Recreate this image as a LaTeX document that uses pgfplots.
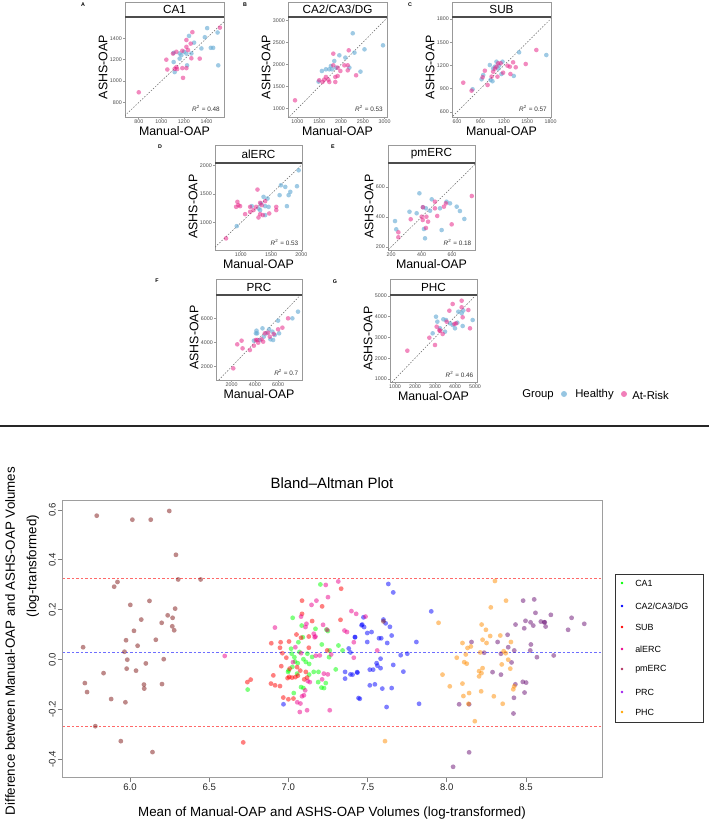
\documentclass[border=0pt]{standalone}
\usepackage{fontspec}
\setmainfont{Liberation Sans}
\usepackage{pgfplots}
\pgfplotsset{compat=1.18}

\newdimen\px \px=0.75pt

\definecolor{healthy}{RGB}{107,174,214}
\definecolor{atrisk}{RGB}{231,41,138}
\definecolor{ticktxt}{gray}{0.3}
\definecolor{panelframe}{gray}{0.6}
\definecolor{baframe}{gray}{0.62}
\definecolor{pmerc}{RGB}{125,20,20}
\definecolor{prc}{RGB}{105,15,115}
\definecolor{phc}{RGB}{255,140,0}
\definecolor{legpmerc}{RGB}{176,48,96}
\definecolor{legprc}{RGB}{160,32,240}
\definecolor{legphc}{RGB}{255,165,0}
\definecolor{loaline}{RGB}{255,105,105}
\definecolor{meanline}{RGB}{110,110,255}

\pgfplotsset{
  panel/.style={
    scale only axis, clip mode=individual,
    axis line style={panelframe, line width=0.8\px},
    tick style={panelframe, line width=0.6\px},
    tick align=outside, major tick length=2\px,
    xtick pos=bottom, ytick pos=left,
    ticklabel style={font=\fontsize{4}{4}\selectfont, text=ticktxt, inner sep=1\px},
    /pgf/number format/assume math mode=true,
    /pgf/number format/1000 sep={},
    scaled ticks=false,
    xlabel={Manual-OAP}, ylabel={ASHS-OAP},
    label style={font=\fontsize{9.3}{10}\selectfont},
    xlabel style={inner sep=1\px},
    ylabel style={inner sep=1\px},
  },
  healthy/.style={only marks, mark=*, mark size=2.3\px,
    mark options={line width=0pt, draw opacity=0, fill=healthy, fill opacity=0.65}},
  atrisk/.style={only marks, mark=*, mark size=2.3\px,
    mark options={line width=0pt, draw opacity=0, fill=atrisk, fill opacity=0.55}},
  identity/.style={no marks, color=black!60, line width=0.5\px, dash pattern=on 1.5\px off 1.5\px},
  badot/.style={only marks, mark=*, mark size=2.4\px,
    mark options={line width=0pt, draw opacity=0, fill=#1, fill opacity=0.5}},
  baline/.style={no marks, color=#1, line width=1\px, dash pattern=on 2.5\px off 2\px},
}

% strip on top of a panel, and R^2 note
\newcommand\strip[3]{%
  \draw[draw=panelframe, line width=0.8\px] (rel axis cs:0,1) rectangle ([yshift=#1\px]rel axis cs:1,1);
  \draw[draw=black!70, line width=1.2\px] (rel axis cs:0,1) -- (rel axis cs:1,1);
  \node[font=\fontsize{8.8}{9}\selectfont] at ([yshift=#1/2*\px]rel axis cs:0.5,1) {#2};
  \node[anchor=south east, font=\fontsize{4.8}{5}\selectfont, text=black!80, inner sep=0pt]
    at (rel axis cs:0.96,0.05) {{\itshape R}\textsuperscript{2} = #3};
}

\begin{document}
\begin{tikzpicture}
\useasboundingbox (0,0) rectangle (709\px,-825\px);

% ---------- A: CA1
\begin{axis}[panel, at={(125\px,-117\px)}, anchor=south west, width=99\px, height=100\px,
  xmin=678, xmax=1555, ymin=664, ymax=1599,
  xtick={800,1000,1200,1400}, ytick={800,1000,1200,1400}]
\addplot[identity] coordinates {(0,0) (10000,10000)};
\addplot[healthy] table {
1109 1178
1118 1084
1162 1210
1177 1242
1201 1274
1222 1257
1245 1422
1290 1359
1355 1305
1385 1410
1406 1495
1438 1311
1459 1311
1498 1454
1504 1147
1109 1264
1162 1258
1228 1147
1266 1258
};
\addplot[atrisk] table {
800 895
1044 1200
1053 1108
1133 1130
1118 1115
1140 1112
1192 1030
1186 1121
1222 1121
1266 1213
1236 1290
1222 1320
1260 1350
1275 1457
1340 1210
1186 1283
1103 1257
1133 1274
1519 1500
1222 1384
};
\strip{15}{CA1}{0.48}
\end{axis}

% ---------- B: CA2/CA3/DG
\begin{axis}[panel, at={(288\px,-117\px)}, anchor=south west, width=99\px, height=100\px,
  xmin=785, xmax=3054, ymin=811, ymax=3075,
  xtick={1000,1500,2000,2500,3000}, ytick={1000,1500,2000,2500,3000}]
\addplot[identity] coordinates {(0,0) (10000,10000)};
\addplot[healthy] table {
1562 1853
1485 1612
1731 1891
1769 1966
1846 2079
1962 2208
2100 2155
2308 2268
2269 2706
2538 2343
2446 1838
2962 2434
1885 1928
2192 1928
1654 1891
1792 1891
};
\addplot[atrisk] table {
946 1189
1500 1642
1577 1604
1615 1657
1654 1717
1731 1604
1823 1981
1823 2245
1869 1717
1869 1604
1923 1740
1985 1853
2077 1981
2154 1868
2177 2321
2154 1981
2346 1755
1708 1657
1923 1928
};
\strip{15}{CA2/CA3/DG}{0.53}
\end{axis}

% ---------- C: SUB
\begin{axis}[panel, at={(452\px,-117\px)}, anchor=south west, width=99\px, height=100\px,
  xmin=536, xmax=1805, ymin=535, ymax=1826,
  xtick={600,900,1200,1500,1800}, ytick={600,900,1200,1500,1800}]
\addplot[identity] coordinates {(0,0) (10000,10000)};
\addplot[healthy] table {
800 893
915 1022
936 1077
1021 1206
1030 1013
1055 997
1085 1185
1106 1249
1140 1200
1183 1249
1170 1090
1328 1065
1396 1370
1745 1335
1064 1160
1128 1160
};
\addplot[atrisk] table {
680 978
787 875
992 948
957 1133
928 1048
1043 1056
1064 1120
1106 1185
1128 1228
1160 1228
1191 1107
1247 1198
1277 1185
1285 1090
1319 1241
1353 1177
1481 1219
1617 1400
1119 1056
1085 1160
};
\strip{15}{SUB}{0.57}
\end{axis}

% ---------- D: alERC
\begin{axis}[panel, at={(215\px,-250\px)}, anchor=south west, width=87\px, height=87\px,
  xmin=575, xmax=2011, ymin=526, ymax=2040,
  xtick={1000,1500,2000}, ytick={1000,1500,2000}]
\addplot[identity] coordinates {(0,0) (10000,10000)};
\addplot[healthy] table {
934 942
1182 1289
1320 1220
1376 1451
1403 1289
1442 1422
1459 1277
1403 1133
1641 1480
1663 1653
1735 1624
1762 1289
1790 1480
1818 1538
1928 1636
1956 1913
1331 1335
1293 1249
};
\addplot[atrisk] table {
757 728
945 1364
961 1306
923 1277
1072 1150
1155 1191
1210 1220
1254 1277
1276 1578
1293 1092
1320 1347
1348 1306
1403 1376
1470 1162
1586 1220
1586 1277
1320 1150
1155 1277
989 1289
1365 1133
};
\strip{18}{alERC}{0.53}
\end{axis}

% ---------- E: pmERC
\begin{axis}[panel, at={(388\px,-250\px)}, anchor=south west, width=87\px, height=87\px,
  xmin=180, xmax=751, ymin=180, ymax=760,
  xtick={200,400,600}, ytick={200,400,600}]
\addplot[identity] coordinates {(0,0) (10000,10000)};
\addplot[healthy] table {
226 373
386 558
321 435
368 425
429 458
423 258
416 320
467 518
456 442
532 313
521 458
564 502
587 491
631 469
652 440
681 387
234 318
409 465
};
\addplot[atrisk] table {
248 265
329 385
408 380
401 402
429 327
443 369
432 402
488 502
488 458
503 407
547 469
560 491
598 351
730 540
248 298
409 465
};
\strip{18}{pmERC}{0.18}
\end{axis}

% ---------- F: PRC
\begin{axis}[panel, at={(216\px,-380\px)}, anchor=south west, width=86\px, height=85\px,
  xmin=657, xmax=8057, ymin=897, ymax=7931,
  xtick={2000,4000,6000}, ytick={2000,4000,6000}]
\addplot[identity] coordinates {(0,0) (10000,10000)};
\addplot[healthy] table {
3914 4152
4143 4979
4200 4759
4657 5172
4771 4483
5000 4759
5229 5090
5514 4897
5571 4207
5714 4621
6000 5807
6086 4759
7229 6000
7714 6552
4429 4207
5343 4262
4086 4759
};
\addplot[atrisk] table {
2143 1862
2486 3848
2857 4152
2943 3517
3571 3379
3914 3738
4086 4207
4286 3986
4571 4262
4714 4069
4857 4759
5286 4483
5629 4703
6000 5090
6371 5228
6857 6000
5143 4814
4200 4207
};
\strip{16}{PRC}{0.7}
\end{axis}

% ---------- G: PHC
\begin{axis}[panel, at={(390\px,-382\px)}, anchor=south west, width=87\px, height=87\px,
  xmin=750, xmax=5100, ymin=855, ymax=5048,
  xtick={1000,2000,3000,4000,5000}, ytick={1000,2000,3000,4000,5000}]
\addplot[identity] coordinates {(0,0) (10000,10000)};
\addplot[healthy] table {
2883 3201
3050 4003
3117 3762
3250 3443
3417 3877
3500 3280
3550 3843
3750 3683
3883 3602
4000 3443
4117 3713
4167 4243
4333 4166
4383 3554
4883 3843
4417 4300
};
\addplot[atrisk] table {
1617 2364
2717 2990
3000 2639
3083 3521
3250 3313
3383 3169
3583 3762
3717 4292
3883 4614
3967 3651
4050 3680
4333 4773
4333 4455
4383 3973
4667 4325
4750 3443
3217 3360
};
\strip{16}{PHC}{0.46}
\end{axis}

% panel letters
\begin{scope}[every node/.style={font=\bfseries\fontsize{4}{4}\selectfont}]
\node at (83\px,-5\px) {A};
\node at (245\px,-5\px) {B};
\node at (410\px,-5\px) {C};
\node at (160\px,-147\px) {D};
\node at (333\px,-147\px) {E};
\node at (157\px,-281\px) {F};
\node at (335\px,-282\px) {G};
\end{scope}

% group legend
\begin{scope}[every node/.style={font=\fontsize{8.5}{9}\selectfont, anchor=west, inner sep=0pt}]
\node at (522\px,-395\px) {Group};
\fill[healthy, opacity=0.7] (564\px,-394\px) circle (3\px);
\node at (575\px,-395\px) {Healthy};
\fill[atrisk, opacity=0.6] (624\px,-394\px) circle (3\px);
\node at (632\px,-395\px) {At-Risk};
\end{scope}

% separator
\draw[black!85, line width=2\px] (0,-426\px) -- (709\px,-426\px);

% ---------- Bland-Altman
\begin{axis}[at={(63\px,-777\px)}, anchor=south west, scale only axis,
  width=539\px, height=277\px,
  xmin=5.577, xmax=8.98, ymin=-0.472, ymax=0.64,
  axis line style={baframe, line width=1\px},
  tick style={baframe!80!black, line width=0.7\px},
  tick align=outside, major tick length=5\px,
  xtick pos=bottom, ytick pos=left,
  xtick={6,6.5,7,7.5,8,8.5}, ytick={-0.4,-0.2,0,0.2,0.4,0.6},
  ticklabel style={font=\fontsize{7.2}{8}\selectfont, text=black!85},
  /pgf/number format/assume math mode=true,
  /pgf/number format/.cd, fixed, fixed zerofill, precision=1, /pgfplots/.cd,
  yticklabel style={rotate=90, anchor=south, inner sep=2\px},
  xticklabel style={inner sep=2\px},
  clip mode=individual]
\addplot[baline=meanline] coordinates {(5.577,0.028) (8.98,0.028)};
\addplot[baline=loaline] coordinates {(5.577,-0.268) (8.98,-0.268)};
\addplot[baline=loaline] coordinates {(5.577,0.323) (8.98,0.323)};
% CA1
\addplot[badot=green] table {
7.202 0.301
7.027 0.167
7.084 0.136
7.171 0.123
7.249 0.114
7.240 0.120
7.063 0.069
7.091 0.089
7.017 0.043
7.021 0.023
7.038 0.009
7.042 -0.008
7.059 -0.015
7.025 -0.030
7.095 0.001
7.120 0.023
7.131 -0.018
7.211 0.060
7.257 0.009
7.261 0.036
7.316 0.056
7.342 0.036
7.299 -0.040
7.002 -0.044
6.998 -0.050
7.055 -0.057
7.131 -0.061
7.190 -0.050
7.188 -0.091
7.236 -0.095
7.209 -0.113
7.225 -0.115
7.080 -0.111
6.743 -0.121
7.034 -0.135
7.095 -0.115
7.110 -0.010
7.160 -0.050
7.070 0.030
7.150 0.010
};
% CA2/CA3/DG
\addplot[badot=blue] table {
6.969 -0.180
7.443 -0.155
7.358 -0.050
7.358 -0.077
7.405 -0.061
7.436 -0.053
7.474 0.169
7.466 0.140
7.421 0.089
7.392 0.028
7.381 0.044
7.631 0.303
7.662 0.269
7.902 0.193
7.462 0.137
7.498 0.106
7.525 0.110
7.572 0.085
7.586 0.085
7.614 0.145
7.641 0.131
7.652 0.096
7.624 0.066
7.498 0.070
7.420 0.090
7.808 0.070
7.709 0.017
7.751 0.023
7.557 -0.015
7.562 -0.025
7.582 0.003
7.514 -0.041
7.535 -0.041
7.582 -0.035
7.662 -0.022
7.726 -0.049
7.434 -0.051
7.392 -0.060
7.514 -0.104
7.546 -0.100
7.593 -0.117
7.652 -0.115
7.451 -0.158
7.620 -0.191
7.825 -0.178
7.478 0.130
7.600 0.160
};
% SUB
\addplot[badot=red] table {
7.333 0.284
7.213 0.213
7.086 0.236
7.086 0.183
7.150 0.154
7.329 0.159
6.892 0.065
6.951 0.069
7.004 0.072
6.947 0.047
6.962 0.025
7.051 0.100
7.080 0.087
7.129 0.092
7.129 0.047
7.245 0.036
6.987 0.007
6.955 -0.027
7.008 -0.037
7.055 -0.031
7.023 -0.073
7.044 -0.071
7.060 -0.065
7.075 -0.045
7.110 -0.050
7.118 -0.073
7.005 -0.070
6.995 -0.075
6.905 -0.064
6.741 -0.091
6.762 -0.081
6.890 -0.097
6.916 -0.104
6.947 -0.107
6.968 -0.153
7.032 -0.157
7.100 -0.080
6.715 -0.333
7.000 -0.160
};
% alERC
\addplot[badot=magenta] table {
6.598 0.014
6.915 0.128
7.236 0.299
7.315 0.313
7.177 0.236
7.146 0.219
7.080 0.172
7.108 0.130
7.160 0.103
7.171 0.092
7.219 0.139
7.245 0.119
7.354 0.116
7.398 0.194
7.428 0.183
7.487 0.172
7.044 0.049
7.080 0.025
7.173 0.015
7.198 0.016
7.270 0.020
7.413 0.007
7.224 -0.057
7.249 -0.060
7.213 -0.080
7.122 -0.087
7.029 -0.011
7.086 -0.148
7.076 -0.177
7.072 -0.211
7.118 -0.204
7.261 -0.204
7.114 0.143
7.166 0.089
7.561 0.036
7.106 -0.124
7.098 -0.144
7.056 -0.172
7.135 -0.091
7.413 0.069
7.250 0.250
7.370 0.110
};
% pmERC
\addplot[badot=pmerc] table {
5.704 0.049
5.715 -0.095
5.729 -0.131
5.790 0.577
5.781 -0.268
5.833 -0.055
5.881 -0.159
5.900 0.292
5.921 0.311
5.942 -0.328
5.965 0.031
5.975 0.077
5.983 -0.001
5.979 -0.037
5.971 -0.172
6.002 0.219
6.025 0.115
6.015 0.561
6.048 0.055
6.038 -0.045
6.071 0.160
6.088 -0.101
6.090 -0.117
6.100 -0.016
6.123 0.235
6.131 0.561
6.142 -0.372
6.163 0.079
6.200 0.147
6.202 -0.099
6.213 0.001
6.238 0.177
6.248 0.596
6.267 0.133
6.269 0.167
6.279 0.117
6.285 0.204
6.290 0.420
6.304 0.321
6.446 0.321
7.600 0.153
};
% PRC
\addplot[badot=prc] table {
8.482 0.236
8.552 0.241
8.560 0.187
8.657 0.179
8.788 0.167
8.868 0.143
8.497 0.155
8.529 0.149
8.546 0.136
8.594 0.152
8.619 0.149
8.624 0.132
8.434 0.140
8.489 0.125
8.766 0.119
8.156 0.070
8.321 0.070
8.384 0.099
8.388 0.049
8.342 0.023
8.236 0.027
8.426 0.036
8.531 0.060
8.527 0.036
8.569 0.009
8.675 0.016
8.409 -0.012
8.289 -0.051
8.342 -0.061
8.433 -0.100
8.480 -0.090
8.501 -0.093
8.491 -0.133
8.424 -0.154
8.078 -0.180
8.141 -0.180
8.421 -0.217
8.141 -0.373
8.040 -0.431
8.615 0.149
};
% PHC
\addplot[badot=phc] table {
8.304 0.315
8.374 0.236
8.278 0.209
7.948 0.147
8.220 0.140
8.247 0.119
8.274 0.094
8.338 0.096
8.226 0.079
8.251 0.066
8.099 0.066
8.131 0.046
8.120 0.020
8.211 0.028
8.359 0.033
8.372 0.025
8.405 0.070
8.388 -0.001
8.063 0.007
8.110 -0.011
8.126 -0.017
8.347 -0.020
8.226 -0.035
8.204 -0.047
8.219 -0.055
8.204 -0.068
8.401 -0.037
7.973 -0.061
8.019 -0.108
8.099 -0.097
8.141 -0.135
8.105 -0.147
8.217 -0.128
8.297 -0.148
8.426 -0.108
8.420 -0.120
8.137 -0.178
8.353 -0.178
8.177 -0.248
7.610 -0.328
8.152 0.052
};
\end{axis}

% titles and axis labels of the Bland-Altman plot
\node[font=\fontsize{11.2}{12}\selectfont] at (332\px,-483\px) {Bland–Altman Plot};
\node[font=\fontsize{10}{11}\selectfont] at (332\px,-813\px) {Mean of Manual-OAP and ASHS-OAP Volumes (log-transformed)};
\node[font=\fontsize{10}{11}\selectfont, rotate=90] at (10\px,-641\px) {Difference between Manual-OAP and ASHS-OAP Volumes};
\node[font=\fontsize{10}{11}\selectfont, rotate=90] at (33\px,-566\px) {(log-transformed)};

% legend of the Bland-Altman plot
\draw[black!80, line width=1\px, fill=white] (615\px,-574\px) rectangle (703\px,-722\px);
\begin{scope}[every node/.style={font=\fontsize{6.7}{7}\selectfont, anchor=west, inner sep=0pt}]
\fill[green] (622\px,-583\px) circle (1.4\px);      \node at (635\px,-583\px) {CA1};
\fill[blue] (622\px,-606\px) circle (1.4\px);       \node at (635\px,-606\px) {CA2/CA3/DG};
\fill[red] (622\px,-627\px) circle (1.4\px);        \node at (635\px,-627\px) {SUB};
\fill[magenta] (622\px,-649\px) circle (1.4\px);    \node at (635\px,-649\px) {alERC};
\fill[legpmerc] (622\px,-669\px) circle (1.4\px);   \node at (635\px,-669\px) {pmERC};
\fill[legprc] (622\px,-692\px) circle (1.4\px);     \node at (635\px,-692\px) {PRC};
\fill[legphc] (622\px,-712\px) circle (1.4\px);     \node at (635\px,-712\px) {PHC};
\end{scope}
\end{tikzpicture}
\end{document}
